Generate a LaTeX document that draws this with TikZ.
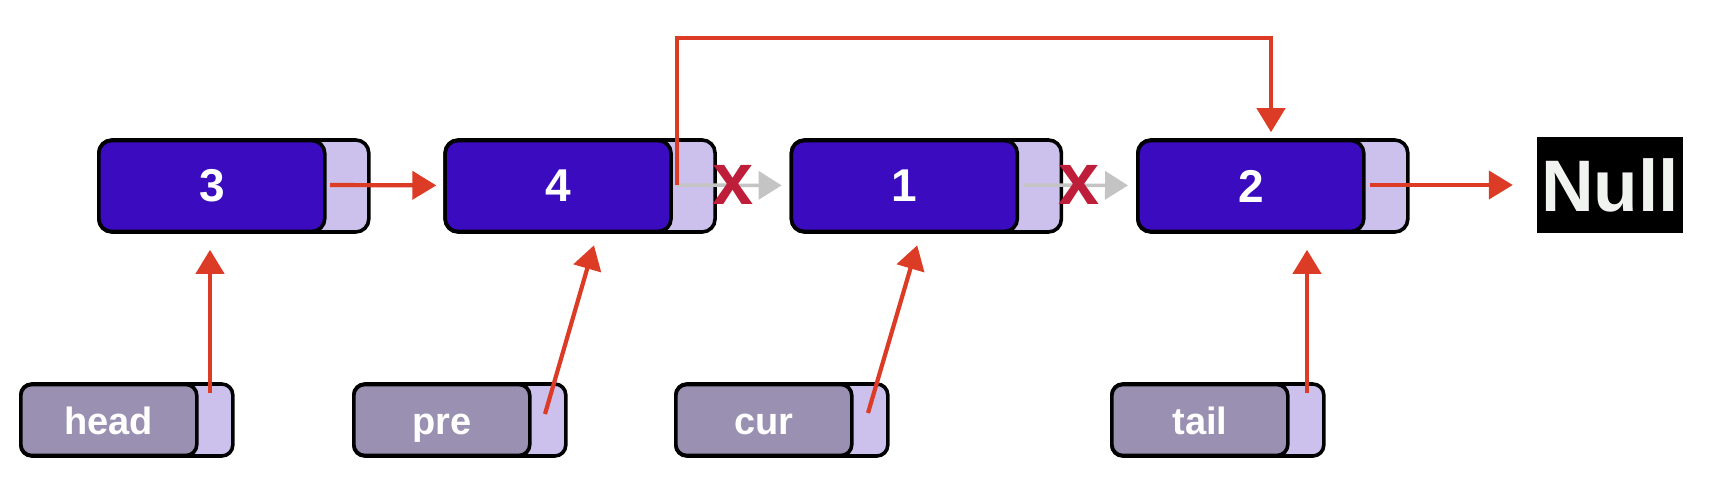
\documentclass[tikz,border=0pt]{standalone}
\usepackage{fontspec}
\setmainfont{Liberation Sans}
\usetikzlibrary{arrows.meta,calc}
\definecolor{nodedark}{HTML}{3A0BBF}
\definecolor{nodelight}{HTML}{CBC1EC}
\definecolor{ptrdark}{HTML}{9A90B2}
\definecolor{redarrow}{HTML}{DC3B26}
\definecolor{grayarrow}{HTML}{C4C4C4}
\definecolor{crossred}{HTML}{BE1E3A}
\definecolor{nulltext}{HTML}{F1F3F1}
\begin{document}
\begin{tikzpicture}[x=1pt,y=-1pt,
  outerbox/.style={draw=black, line width=3.6pt, fill=nodelight, rounded corners=13pt,
    minimum width=270pt, minimum height=92pt, inner sep=0pt, anchor=west},
  innerbox/.style={draw=black, line width=3.6pt, fill=nodedark, rounded corners=13pt,
    minimum width=226pt, minimum height=91pt, inner sep=0pt, anchor=west,
    text=white, font=\bfseries\fontsize{46}{50}\selectfont},
  ptrouter/.style={draw=black, line width=3.6pt, fill=nodelight, rounded corners=11pt,
    minimum width=212pt, minimum height=72pt, inner sep=0pt, anchor=west},
  ptrinner/.style={draw=black, line width=3.6pt, fill=ptrdark, rounded corners=11pt,
    minimum width=176pt, minimum height=71pt, inner sep=0pt, anchor=west,
    text=white, font=\bfseries\fontsize{38}{42}\selectfont, text height=30pt, text depth=2pt},
  redarr/.style={draw=redarrow, line width=4.2pt, -{Triangle[length=24pt,width=28pt]}},
  grayarr/.style={draw=grayarrow, line width=3.5pt, -{Triangle[length=23pt,width=28pt]}},
  cross/.style={text=crossred, font=\bfseries\fontsize{74}{80}\selectfont, inner sep=0pt},
  nullbox/.style={fill=black, minimum width=146pt, minimum height=96pt, inner sep=0pt,
    text=nulltext, font=\bfseries\fontsize{73}{80}\selectfont}
]
\useasboundingbox[fill=white] (0,0) rectangle (1736,492);

% list nodes
\node[outerbox] (n3o) at (97,186) {};
\node[innerbox] (n3) at (97,186) {3};
\node[outerbox] (n4o) at (443.3,186) {};
\node[innerbox] (n4) at (443.3,186) {4};
\node[outerbox] (n1o) at (789.6,186) {};
\node[innerbox] (n1) at (789.6,186) {1};
\node[outerbox] (n2o) at (1136,186) {};
\node[innerbox] (n2) at (1136,186) {2};
\node[nullbox] (null) at (1610,185) {Null};

% pointer nodes
\node[ptrouter] (heado) at (19,420) {};
\node[ptrinner] (head) at (19,420) {head};
\node[ptrouter] (preo) at (352,420) {};
\node[ptrinner] (pre) at (352,420) {pre};
\node[ptrouter] (curo) at (674,420) {};
\node[ptrinner] (cur) at (674,420) {cur};
\node[ptrouter] (tailo) at (1110,420) {};
\node[ptrinner] (tail) at (1110,420) {tail};

% start points inside the pointer fields
\coordinate (s3) at (330,185);
\coordinate (s4) at (677,185);
\coordinate (s1) at (1024,185);
\coordinate (s2) at (1370,185);
\coordinate (sh) at (210,393);
\coordinate (sp) at (545,414);
\coordinate (sc) at (868,413);
\coordinate (st) at (1307,393);
\coordinate (ty) at (0,38);
\coordinate (tx) at (1271,0);
\coordinate (t4) at ($(n4o.south west)+(154,0)$);
\coordinate (t1) at ($(n1o.south west)+(131,0)$);

% old links (gray) with crosses
\draw[grayarr, shorten >=8pt] (s4) -- (n1o);
\draw[grayarr, shorten >=8pt] (s1) -- (n2o);
\node[cross] (x1) at (733,185) {x};
\node[cross] (x2) at (1079,185) {x};

% red links
\draw[redarr, shorten >=7pt] (s3) -- (n4o);
\draw[redarr, shorten >=24pt] (s2) -- (null);
\draw[redarr, shorten >=6pt] (s4) -- (s4 |- ty) -| (n2o.north -| tx);

% pointer arrows
\draw[redarr, shorten >=16pt] (sh) -- (sh |- n3o.south);
\draw[redarr, shorten >=12pt] (sp) -- (t4);
\draw[redarr, shorten >=12pt] (sc) -- (t1);
\draw[redarr, shorten >=16pt] (st) -- (st |- n2o.south);
\end{tikzpicture}
\end{document}
